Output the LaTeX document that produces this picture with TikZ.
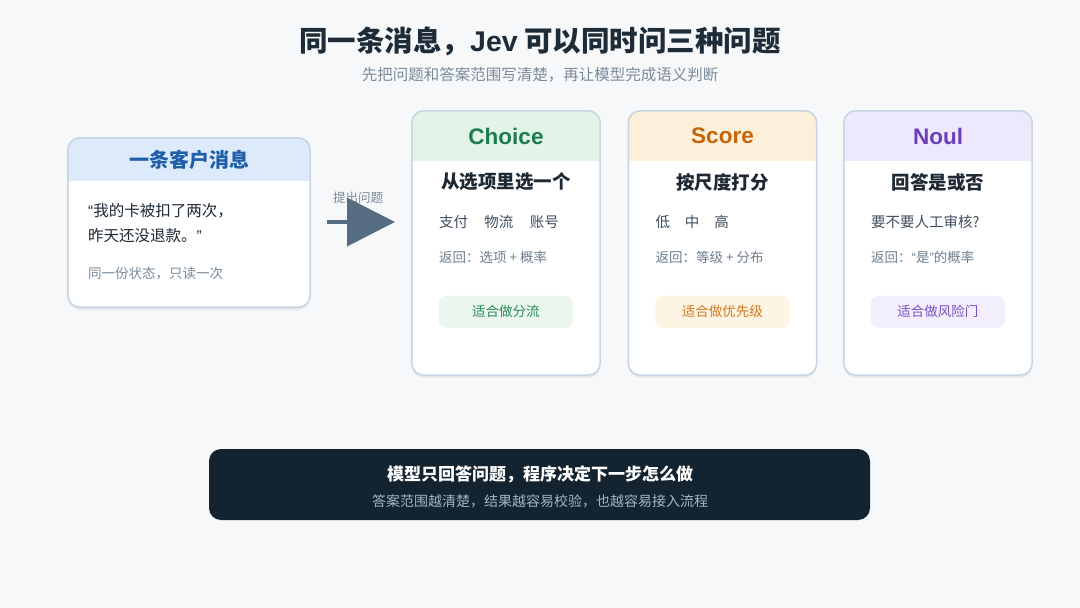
\documentclass[tikz,border=0pt]{standalone}
\usepackage{fontspec}
\setmainfont{Noto Sans CJK SC}
\newfontfamily\hdfont{Liberation Sans}
\usetikzlibrary{arrows.meta,shadows,calc}
\definecolor{bgc}{HTML}{F6F8FA}
\definecolor{titlec}{HTML}{1E2B38}
\definecolor{subc}{HTML}{7B8B9A}
\definecolor{borderc}{HTML}{C5D4E0}
\definecolor{bluefill}{HTML}{DCEAFB}
\definecolor{bluetext}{HTML}{1F5FAA}
\definecolor{greenfill}{HTML}{E2F4E8}
\definecolor{greentext}{HTML}{1E7B4B}
\definecolor{greentag}{HTML}{EAF6EE}
\definecolor{greentagt}{HTML}{2E8A58}
\definecolor{orangefill}{HTML}{FDF0DA}
\definecolor{orangetext}{HTML}{C4650A}
\definecolor{orangetag}{HTML}{FEF4E4}
\definecolor{orangetagt}{HTML}{CE7A22}
\definecolor{purplefill}{HTML}{EEE8FD}
\definecolor{purpletext}{HTML}{6B3FB8}
\definecolor{purpletag}{HTML}{F3EEFD}
\definecolor{purpletagt}{HTML}{7A52C0}
\definecolor{darktext}{HTML}{1E2933}
\definecolor{opttext}{HTML}{3E4E5E}
\definecolor{rettext}{HTML}{6E7E8E}
\definecolor{darkbox}{HTML}{13232F}
\definecolor{darksub}{HTML}{A5B4C1}
\definecolor{arrowc}{HTML}{566C80}
\newcommand{\fsz}[1]{\fontsize{#1}{#1}\selectfont}
\newcommand{\myopenq}{{\hdfont “}}
\newcommand{\mycloseq}{{\hdfont ”}}
\begin{document}
\begin{tikzpicture}[x=1pt,y=-1pt,
  cardbox/.style={rectangle,rounded corners=12pt,fill=white,inner sep=0pt,
    drop shadow={shadow xshift=0pt,shadow yshift=-3pt,opacity=0.06,fill=black}},
  cardborder/.style={draw=borderc,line width=1.5pt,rounded corners=12pt},
  hdtext/.style={font=\hdfont\bfseries\fsz{22.5},inner sep=0pt},
  leadtext/.style={font=\bfseries\fsz{18.5},text=darktext,inner sep=0pt},
  opttxt/.style={font=\fsz{14.5},text=opttext,inner sep=0pt,anchor=west},
  rettxt/.style={font=\fsz{13.5},text=rettext,inner sep=0pt,anchor=west},
  tagbox/.style={rectangle,rounded corners=8pt,minimum width=134pt,minimum height=32pt,inner sep=0pt,font=\fsz{13.5}},
]
\useasboundingbox[fill=bgc] (0,0) rectangle (1080,608);

% title
\node[font=\bfseries\fsz{28.5},text=titlec,inner sep=0pt] (title) at (540,41) {同一条消息，{\hdfont Jev} 可以同时问三种问题};
\node[font=\fsz{15.5},text=subc,inner sep=0pt] (subtitle) at (540,75) {先把问题和答案范围写清楚，再让模型完成语义判断};

% left card
\node[cardbox,minimum width=242pt,minimum height=169pt] (msg) at (189,222.5) {};
\begin{scope}
  \clip[rounded corners=12pt] (msg.south west) rectangle (msg.north east);
  \fill[bluefill] (msg.north west) rectangle ($(msg.north east)+(0,43)$);
\end{scope}
\draw[cardborder] (msg.south west) rectangle (msg.north east);
\node[font=\bfseries\fsz{20},text=bluetext,inner sep=0pt] (msgtitle) at (189,160) {一条客户消息};
\node[font=\fsz{15.5},text=darktext,inner sep=0pt,anchor=west] (msgl1) at (88,211) {\myopenq 我的卡被扣了两次，};
\node[font=\fsz{15.5},text=darktext,inner sep=0pt,anchor=west] (msgl2) at (88,236) {昨天还没退款。\mycloseq};
\node[font=\fsz{13.5},text=subc,inner sep=0pt,anchor=west] (msgl3) at (88,274) {同一份状态，只读一次};

% arrow
\coordinate (arrA) at (327,222);
\coordinate (arrB) at (395,222);
\node[font=\fsz{12.5},text=subc,inner sep=0pt] (arrlabel) at (358,198) {提出问题};
\draw[arrowc,line width=4pt,-{Triangle[length=48pt,width=48pt]}] (arrA) -- (arrB);

% three cards
\foreach \name/\cx/\hfill/\htext/\head/\lead/\opts/\ret/\tfill/\ttext/\tag in {
  choice/506/greenfill/greentext/Choice/从选项里选一个/{支付\hspace{16.5pt}物流\hspace{16.5pt}账号}/{返回：选项 + 概率}/greentag/greentagt/适合做分流,
  score/722.5/orangefill/orangetext/Score/按尺度打分/{低\hspace{15pt}中\hspace{15pt}高}/{返回：等级 + 分布}/orangetag/orangetagt/适合做优先级,
  noul/938/purplefill/purpletext/Noul/回答是或否/{要不要人工审核?}/{返回：\myopenq 是\mycloseq 的概率}/purpletag/purpletagt/适合做风险门}{
  \node[cardbox,minimum width=188pt,minimum height=264pt] (\name) at (\cx,243) {};
  \begin{scope}
    \clip[rounded corners=12pt] (\name.south west) rectangle (\name.north east);
    \fill[\hfill] (\name.north west) rectangle ($(\name.north east)+(0,50)$);
  \end{scope}
  \draw[cardborder] (\name.south west) rectangle (\name.north east);
  \node[hdtext,text=\htext] (\name-head) at (\cx,136) {\head};
  \node[leadtext] (\name-lead) at (\cx,182) {\lead};
  \node[opttxt] (\name-opts) at ($(\name.north west)+(27,111)$) {\opts};
  \node[rettxt] (\name-ret) at ($(\name.north west)+(27,147)$) {\ret};
  \node[tagbox,fill=\tfill,text=\ttext] (\name-tag) at ($(\name.north west)+(94,201)$) {\tag};
}

% bottom box
\node[rectangle,rounded corners=12pt,fill=darkbox,minimum width=661pt,minimum height=71pt,inner sep=0pt] (bottom) at (539.5,484.5) {};
\node[font=\bfseries\fsz{17},text=white,inner sep=0pt] (bottomt) at (540,474) {模型只回答问题，程序决定下一步怎么做};
\node[font=\fsz{14},text=darksub,inner sep=0pt] (bottoms) at (540,501) {答案范围越清楚，结果越容易校验，也越容易接入流程};
\end{tikzpicture}
\end{document}
